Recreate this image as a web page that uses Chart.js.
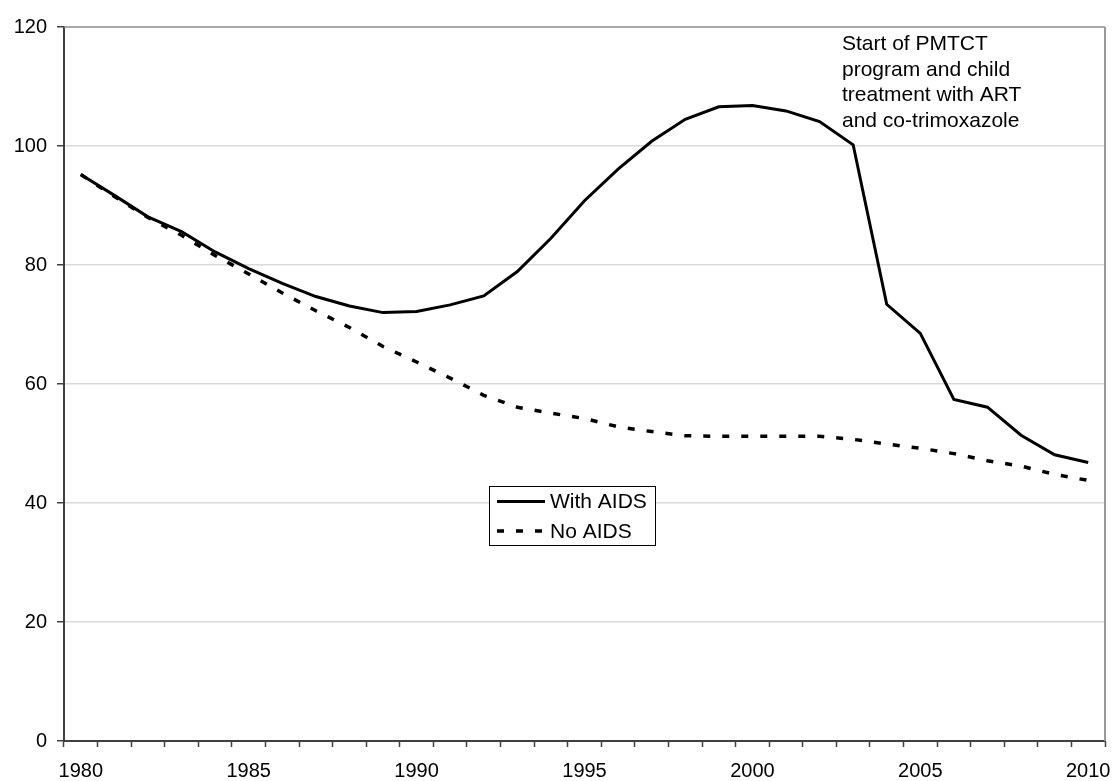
<!DOCTYPE html>
<html>
<head>
<meta charset="utf-8">
<script src="https://cdn.jsdelivr.net/npm/chart.js@4.4.1/dist/chart.umd.min.js"></script>
<style>
  html, body { margin: 0; padding: 0; background: #ffffff; }
  #wrap { width: 1114px; height: 781px; position: relative; }
</style>
</head>
<body>
<div id="wrap"><canvas id="mortalityChart"></canvas></div>
<script>
// Under-five mortality, with and without AIDS
const years = [];
for (let y = 1980; y <= 2010; y++) years.push(String(y));

const withAids = [95.2, 91.7, 88.1, 85.6, 82.2, 79.4, 76.9, 74.7, 73.1, 72.0,
                  72.2, 73.3, 74.8, 78.9, 84.5, 90.8, 96.1, 100.8, 104.5, 106.6,
                  106.8, 105.9, 104.1, 100.2, 73.4, 68.5, 57.4, 56.1, 51.4, 48.1, 46.8];
const noAids = [95.2, 91.5, 88.0, 85.0, 81.6, 78.5, 75.3, 72.3, 69.5, 66.3,
                63.7, 61.0, 58.1, 56.1, 55.1, 54.2, 52.8, 52.0, 51.3, 51.2,
                51.2, 51.2, 51.2, 50.7, 49.9, 49.2, 48.3, 47.1, 46.2, 44.8, 43.8];
const yTicks = [0, 20, 40, 60, 80, 100, 120];
const noteLines = ['Start of PMTCT', 'program and child', 'treatment with ART', 'and co-trimoxazole'];

const FONT = 'Liberation Sans, Arial, sans-serif';

// frame on top/right, note text and the floating legend box
const extras = {
    id: 'extras',
    afterDraw(chart) {
        const ctx = chart.ctx;
        const a = chart.chartArea;
        ctx.save();
        ctx.strokeStyle = '#8c8c8c';
        ctx.lineWidth = 1.5;
        ctx.beginPath();
        ctx.moveTo(a.left, a.top);
        ctx.lineTo(a.right, a.top);
        ctx.stroke();
        ctx.lineWidth = 2;
        ctx.strokeStyle = '#999999';
        ctx.beginPath();
        ctx.moveTo(a.right, a.top);
        ctx.lineTo(a.right, a.bottom);
        ctx.stroke();

        // note
        ctx.fillStyle = '#000000';
        ctx.font = '21px ' + FONT;
        ctx.textBaseline = 'alphabetic';
        ctx.textAlign = 'left';
        noteLines.forEach((t, i) => ctx.fillText(t, 842, 50 + i * 25.7));

        // legend
        const bx = 489.5, by = 486.5, bw = 166, bh = 59;
        ctx.fillStyle = '#ffffff';
        ctx.fillRect(bx, by, bw, bh);
        ctx.strokeStyle = '#000000';
        ctx.lineWidth = 1;
        ctx.strokeRect(bx, by, bw, bh);
        chart.data.datasets.forEach((ds, i) => {
            const ly = 501.5 + i * 29.5;
            ctx.strokeStyle = ds.borderColor;
            ctx.lineWidth = ds.borderWidth;
            ctx.setLineDash(ds.borderDash || []);
            ctx.beginPath();
            ctx.moveTo(497, ly);
            ctx.lineTo(545, ly);
            ctx.stroke();
            ctx.setLineDash([]);
            ctx.fillStyle = '#000000';
            ctx.font = '21px ' + FONT;
            ctx.textBaseline = 'middle';
            ctx.fillText(ds.label, 550, ly + 1);
        });
        ctx.restore();
    }
};

const chartCtx = document.getElementById('mortalityChart');
new Chart(chartCtx, {
    type: 'line',
    data: {
        labels: years,
        datasets: [{
            label: 'With AIDS',
            data: withAids,
            borderColor: '#000000',
            borderWidth: 3,
            pointRadius: 0,
            tension: 0,
            fill: false
        }, {
            label: 'No AIDS',
            data: noAids,
            borderColor: '#000000',
            borderWidth: 3.5,
            borderDash: [7, 12],
            borderCapStyle: 'butt',
            pointRadius: 0,
            tension: 0,
            fill: false
        }]
    },
    options: {
        responsive: true,
        maintainAspectRatio: false,
        animation: false,
        layout: {
            padding: { top: 27, right: 9, left: 0, bottom: 0 }
        },
        plugins: {
            legend: { display: false },
            tooltip: { enabled: false }
        },
        scales: {
            x: {
                type: 'category',
                offset: true,
                grid: {
                    offset: true,
                    drawOnChartArea: false,
                    drawTicks: true,
                    tickLength: 6,
                    tickColor: '#404040',
                    tickWidth: 1.5
                },
                border: { color: '#404040', width: 2 },
                ticks: {
                    autoSkip: false,
                    maxRotation: 0,
                    padding: 12,
                    color: '#000000',
                    font: { family: FONT, size: 20 },
                    callback: function(value, index) {
                        const lab = this.getLabelForValue(value);
                        return (Number(lab) % 5 === 0) ? lab : '';
                    }
                },
                afterFit(scale) {
                    scale.height = 40;
                    scale.paddingLeft = 0;
                    scale.paddingRight = 0;
                }
            },
            y: {
                min: 0,
                max: 120,
                afterBuildTicks(scale) {
                    scale.ticks = yTicks.map(v => ({ value: v }));
                },
                grid: {
                    color: (c) => (c.tick && c.tick.value === 120) ? 'rgba(0,0,0,0)' : '#d9d9d9',
                    lineWidth: 1.5,
                    tickLength: 7,
                    tickColor: '#404040',
                    tickWidth: 1.5
                },
                border: { color: '#404040', width: 2 },
                ticks: {
                    padding: 10,
                    color: '#000000',
                    font: { family: FONT, size: 20 }
                },
                afterFit(scale) {
                    scale.width = 64;
                    scale.paddingTop = 0;
                    scale.paddingBottom = 0;
                }
            }
        }
    },
    plugins: [extras]
});
</script>
</body>
</html>
